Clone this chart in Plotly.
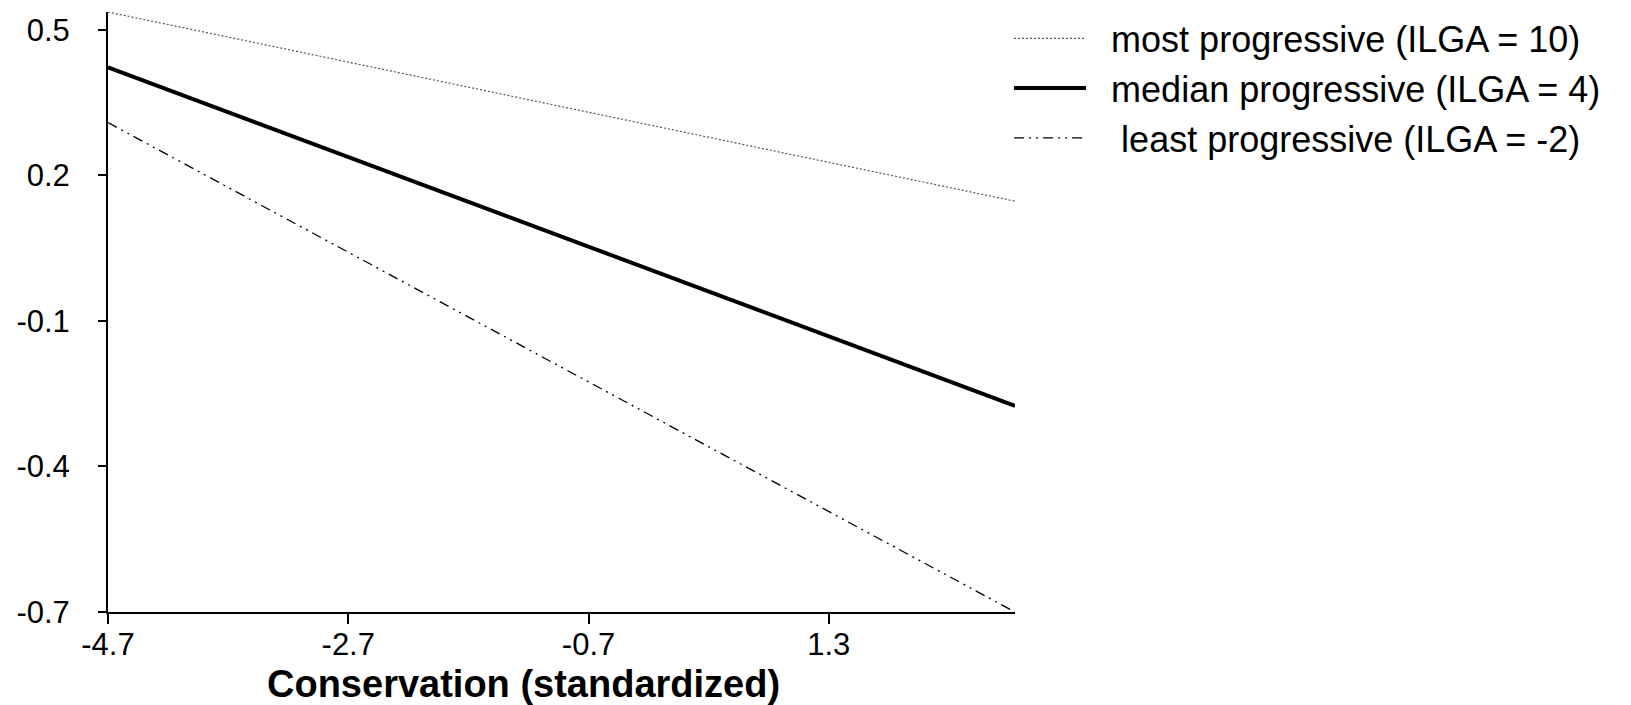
import plotly.graph_objects as go

# Data
x_vals = [-4.7, 2.85]
most_prog = [0.537, 0.147]
median_prog = [0.423, -0.275]
least_prog = [0.309, -0.700]

series_names = ["  most progressive (ILGA = 10)", "  median progressive (ILGA = 4)", "   least progressive (ILGA = -2)"]

x_tickvals = [-4.7, -2.7, -0.7, 1.3]
x_ticktext = ["-4.7", "-2.7", "-0.7", "1.3"]
y_tickvals = [-0.7, -0.4, -0.1, 0.2, 0.5]
y_ticktext = ["-0.7", "-0.4", "-0.1", "0.2", "0.5"]

FONT = "Liberation Sans, Arial, sans-serif"

fig = go.Figure()
fig.add_trace(go.Scatter(x=x_vals, y=most_prog, mode="lines", name=series_names[0],
                         line=dict(color="#555555", width=1.2, dash="2px,2px")))
fig.add_trace(go.Scatter(x=x_vals, y=median_prog, mode="lines", name=series_names[1],
                         line=dict(color="black", width=4)))
fig.add_trace(go.Scatter(x=x_vals, y=least_prog, mode="lines", name=series_names[2],
                         line=dict(color="black", width=1.3, dash="10px,5px,2px,5px,2px,5px")))

# page body has an 8px margin: figure is sized/offset to compensate
fig.update_layout(
    width=1623, height=697,
    margin=dict(l=100, r=616, t=4, b=93, autoexpand=False),
    paper_bgcolor="white", plot_bgcolor="white",
    font=dict(family=FONT, color="black"),
    showlegend=True,
    legend=dict(x=0.9935, y=1.006, xanchor="left", yanchor="top",
                font=dict(size=36, family=FONT, color="black"),
                bgcolor="rgba(0,0,0,0)", itemwidth=72, tracegroupgap=0),
    xaxis=dict(range=[-4.7, 2.85], tickvals=x_tickvals, ticktext=x_ticktext,
               showline=True, linecolor="black", linewidth=2, mirror=False,
               ticks="outside", ticklen=10, tickwidth=2, tickcolor="black",
               showgrid=False, zeroline=False, automargin=False, ticklabelstandoff=-6,
               tickfont=dict(size=31, family=FONT, color="black")),
    yaxis=dict(range=[-0.7, 0.537], tickvals=y_tickvals, ticktext=y_ticktext,
               showline=True, linecolor="black", linewidth=2, mirror=False,
               ticks="outside", ticklen=8, tickwidth=2, tickcolor="black",
               showgrid=False, zeroline=False, ticklabelstandoff=22, automargin=False,
               tickfont=dict(size=31, family=FONT, color="black")),
    annotations=[dict(text="<b>Conservation (standardized)</b>", xref="paper", yref="paper",
                      x=0.4576, y=-0.12, xanchor="center", yanchor="middle", showarrow=False,
                      font=dict(size=38, family=FONT, color="black"))],
)

fig.write_html("out.html")
